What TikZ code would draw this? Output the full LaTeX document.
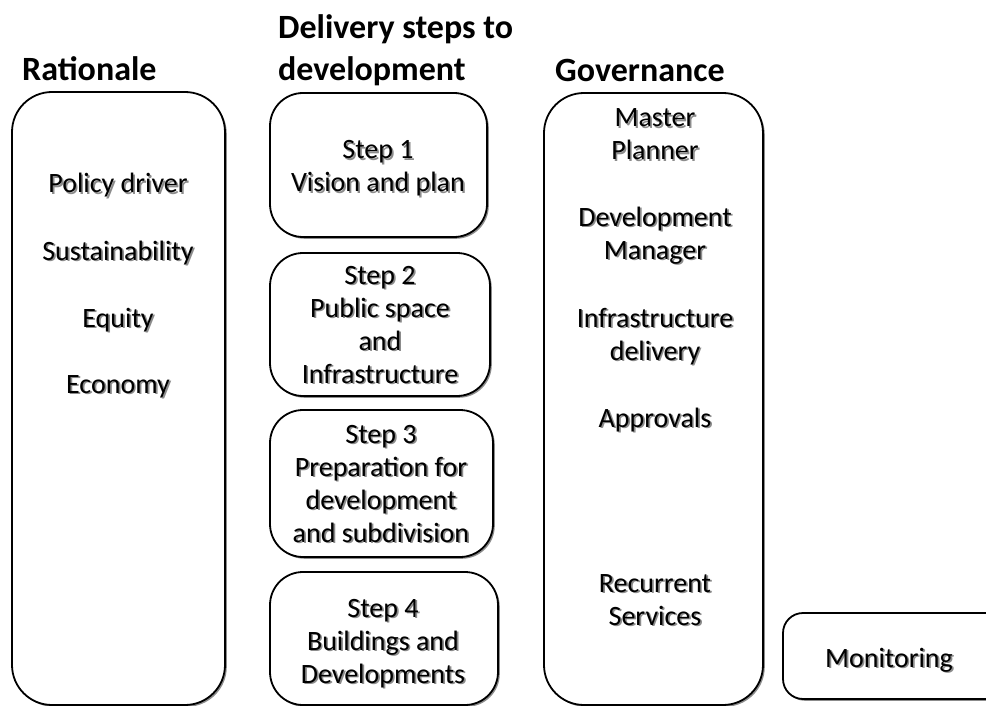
\documentclass[tikz,border=0pt]{standalone}
\usepackage{fontspec}
\setmainfont{Carlito}
\usetikzlibrary{shadows}
\newcommand\shd[1]{\makebox[0pt][l]{\hspace{1.7pt}\raisebox{-1.7pt}{\textcolor{black!45}{#1}}}#1}
\begin{document}
\begin{tikzpicture}[x=1pt,y=-1pt,
  panel/.style={draw=black, line width=1.8pt, fill=white, rounded corners=#1, inner sep=0pt,
    drop shadow={shadow xshift=1.8pt, shadow yshift=-1.8pt, fill=black!45, opacity=1}},
  panel/.default=33pt,
  txt/.style={font=\fontsize{28}{33}\selectfont, align=center, inner sep=0pt, anchor=base},
  ttl/.style={font=\fontsize{34}{42}\selectfont\bfseries, align=left, inner sep=0pt, anchor=base west}]
\useasboundingbox (0,0) rectangle (986,706);
\clip (0,0) rectangle (986,706);
\fill[white] (0,0) rectangle (986,706);
% titles
\node[ttl] (hrat) at (22,81) {Rationale};
\node[ttl] (hdel) at (278,81) {Delivery steps to\\development};
\node[ttl] (hgov) at (555,82) {Governance};
% panels
\node[panel=40pt, minimum width=213pt, minimum height=613pt] (rat) at (118.5,398.5) {};
\node[panel, minimum width=217pt, minimum height=144pt] (s1) at (378.5,165) {};
\node[panel, minimum width=220pt, minimum height=143pt] (s2) at (380,324.5) {};
\node[panel, minimum width=223pt, minimum height=147pt] (s3) at (381.5,483.5) {};
\node[panel, minimum width=228pt, minimum height=133pt] (s4) at (384,638.5) {};
\node[panel=40pt, minimum width=219pt, minimum height=612pt] (gov) at (653.5,399) {};
\node[panel=20pt, minimum width=260pt, minimum height=86pt] (mon) at (913,656) {};
% rationale texts
\node[txt] (r1) at (118,193) {\shd{Policy driver}};
\node[txt] (r2) at (118,260) {\shd{Sustainability}};
\node[txt] (r3) at (118,327) {\shd{Equity}};
\node[txt] (r4) at (118,393) {\shd{Economy}};
% steps texts (anchor base = last line)
\node[txt] (t1) at (378,192) {\shd{Step 1}\\\shd{Vision and plan}};
\node[txt] (t2) at (380,383) {\shd{Step 2}\\\shd{Public space}\\\shd{and}\\\shd{Infrastructure}};
\node[txt] (t3) at (381,542) {\shd{Step 3}\\\shd{Preparation for}\\\shd{development}\\\shd{and subdivision}};
\node[txt] (t4) at (383,683) {\shd{Step 4}\\\shd{Buildings and}\\\shd{Developments}};
% governance texts
\node[txt] (g1) at (655,160) {\shd{Master}\\\shd{Planner}};
\node[txt] (g2) at (655,259) {\shd{Development}\\\shd{Manager}};
\node[txt] (g3) at (655,360) {\shd{Infrastructure}\\\shd{delivery}};
\node[txt] (g4) at (655,427) {\shd{Approvals}};
\node[txt] (g5) at (655,625) {\shd{Recurrent}\\\shd{Services}};
% monitoring
\node[txt] (m1) at (889,667) {\shd{Monitoring}};
\end{tikzpicture}
\end{document}
